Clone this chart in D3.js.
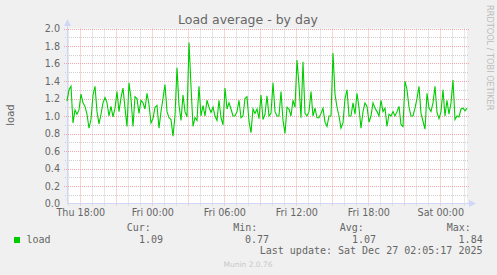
<!DOCTYPE html>
<html>
<head>
<meta charset="utf-8">
<script src="https://cdn.jsdelivr.net/npm/d3@7"></script>
<style>
  body { margin: 0; background: #f0f0f0; }
  svg { display: block; }
</style>
</head>
<body>
<div id="chart"></div>
<script>
// Data: one load reading every 10 minutes
const startTime = new Date(2025, 11, 25, 16, 53, 20);
const endTime = new Date(2025, 11, 27, 2, 13, 20);
const stepMinutes = 10;
const loadValues = [
  1.17, 1.30, 1.34, 0.92, 1.07, 1.02, 1.07, 1.25, 1.15, 1.11, 1.02, 0.86, 0.96, 1.24, 1.34, 1.05, 0.91,
  1.02, 1.15, 1.21, 1.15, 1.00, 1.11, 0.99, 1.09, 1.28, 1.05, 1.21, 1.32, 1.09, 0.88, 1.38, 1.20, 0.88,
  1.22, 1.20, 1.03, 1.18, 1.15, 1.08, 1.26, 1.13, 0.92, 0.97, 1.10, 1.12, 0.86, 1.05, 1.20, 1.36, 1.05,
  0.98, 0.96, 0.77, 1.00, 1.55, 1.12, 0.95, 1.24, 1.05, 0.99, 1.84, 1.34, 0.88, 0.98, 0.95, 1.34,
  1.00, 1.12, 1.00, 1.18, 1.10, 1.04, 1.10, 1.00, 0.95, 1.18, 0.98, 0.90, 1.32, 1.08, 1.15, 1.08, 1.00,
  1.00, 1.05, 1.18, 0.98, 1.00, 1.20, 1.22, 0.94, 0.81, 1.08, 1.03, 1.08, 0.97, 1.24, 0.96, 1.02, 1.23, 1.00,
  1.03, 1.38, 1.05, 1.00, 1.00, 1.28, 0.95, 0.80, 1.10, 1.08, 1.00, 1.18, 1.10, 1.64, 1.35, 0.98, 1.62,
  1.03, 1.00, 1.05, 1.28, 1.00, 1.09, 0.98, 0.98, 1.03, 1.09, 0.93, 0.88, 1.00, 1.00, 1.72, 1.25, 1.10,
  1.00, 0.86, 0.92, 1.20, 1.30, 1.00, 1.00, 1.15, 1.02, 1.26, 1.09, 0.86, 1.05, 1.15, 1.11, 0.93, 1.00,
  1.15, 1.09, 1.05, 1.00, 1.18, 1.05, 1.09, 0.88, 1.02, 1.00, 1.05, 1.00, 1.05, 1.11, 0.90, 0.88, 1.40,
  1.30, 1.10, 1.00, 1.00, 1.09, 1.20, 1.34, 1.03, 0.94, 0.85, 1.26, 1.09, 1.05, 1.15, 1.34, 1.04, 0.97,
  1.05, 1.30, 1.00, 1.18, 1.02, 1.15, 1.41, 0.96, 1.00, 0.99, 1.08, 1.09, 1.06, 1.09
];
const yTicks = [0.0, 0.2, 0.4, 0.6, 0.8, 1.0, 1.2, 1.4, 1.6, 1.8, 2.0];
const xTickTimes = [
  new Date(2025, 11, 25, 18), new Date(2025, 11, 26, 0), new Date(2025, 11, 26, 6),
  new Date(2025, 11, 26, 12), new Date(2025, 11, 26, 18), new Date(2025, 11, 27, 0)
];
const xTickLabels = ["Thu 18:00", "Fri 00:00", "Fri 06:00", "Fri 12:00", "Fri 18:00", "Sat 00:00"];
const statLabels = ["Cur:", "Min:", "Avg:", "Max:"];
const statValues = ["1.09", "0.77", "1.07", "1.84"];
const seriesName = "load";
const lastUpdate = "Last update: Sat Dec 27 02:05:17 2025";

// Layout
const width = 497;
const height = 275;
const plot = { left: 67, right: 467, top: 28.5, bottom: 203.5 };

const sans = "'DejaVu Sans', Verdana, sans-serif";
const mono = "'DejaVu Sans Mono', monospace";
const fontColor = "#666666";
const axisColor = "#cfd6f8";
const minorGrid = "#cfcfcf";
const majorGrid = "#f2a8a8";
const lineColor = "#00cc00";

const svg = d3.select("#chart")
  .append("svg")
  .attr("width", width)
  .attr("height", height)
  .style("background", "#f0f0f0");

// Scales
const x = d3.scaleTime().domain([startTime, endTime]).range([plot.left, plot.right]);
const y = d3.scaleLinear().domain([0, 2]).range([plot.bottom, plot.top]);

const data = loadValues.map((v, i) => ({
  t: new Date(startTime.getTime() + i * stepMinutes * 60000),
  v
}));

// Canvas
svg.append("rect")
  .attr("x", plot.left)
  .attr("y", plot.top)
  .attr("width", plot.right - plot.left)
  .attr("height", plot.bottom - plot.top)
  .attr("fill", "#fff");

const px = v => Math.round(v) + 0.5;

// Grid lines
const minorTimes = d3.timeHour.every(1).range(startTime, endTime);
const majorTimes = d3.timeHour.every(3).range(startTime, endTime);
const minorY = d3.range(1, 20, 2).map(d => d / 10);

const grid = svg.append("g").attr("stroke-dasharray", "1,1").attr("stroke-width", 1);

grid.selectAll(".vminor")
  .data(minorTimes.filter(t => t.getHours() % 3 !== 0))
  .join("line")
  .attr("x1", d => px(x(d))).attr("x2", d => px(x(d)))
  .attr("y1", plot.top).attr("y2", plot.bottom + 2)
  .attr("stroke", minorGrid);

grid.selectAll(".hminor")
  .data(minorY)
  .join("line")
  .attr("x1", plot.left - 2).attr("x2", plot.right + 2)
  .attr("y1", d => px(y(d))).attr("y2", d => px(y(d)))
  .attr("stroke", minorGrid);

grid.selectAll(".vmajor")
  .data(majorTimes)
  .join("line")
  .attr("x1", d => px(x(d))).attr("x2", d => px(x(d)))
  .attr("y1", plot.top).attr("y2", plot.bottom + 3)
  .attr("stroke", majorGrid);

grid.selectAll(".hmajor")
  .data(yTicks.slice(1))
  .join("line")
  .attr("x1", plot.left - 3).attr("x2", plot.right + 2)
  .attr("y1", d => px(y(d))).attr("y2", d => px(y(d)))
  .attr("stroke", majorGrid);

// Y axis labels
const yAxis = svg.append("g")
  .attr("transform", `translate(${plot.left - 4},0)`)
  .call(d3.axisLeft(y).tickValues(yTicks).tickFormat(d3.format(".1f")).tickSize(0).tickPadding(3));
yAxis.select(".domain").remove();
yAxis.selectAll("text")
  .style("font-family", sans)
  .style("font-size", "9.6px")
  .attr("fill", fontColor);

// X axis labels
const xAxis = svg.append("g")
  .attr("transform", `translate(0,${plot.bottom})`)
  .call(d3.axisBottom(x).tickValues(xTickTimes).tickFormat((d, i) => xTickLabels[i]).tickSize(0).tickPadding(6));
xAxis.select(".domain").remove();
xAxis.selectAll("text")
  .style("font-family", sans)
  .style("font-size", "9.6px")
  .attr("fill", fontColor);

// Axis lines with arrows
svg.append("line")
  .attr("x1", plot.left + 0.5).attr("x2", plot.left + 0.5)
  .attr("y1", plot.bottom).attr("y2", 24)
  .attr("stroke", axisColor);
svg.append("line")
  .attr("x1", plot.left).attr("x2", plot.right + 3)
  .attr("y1", plot.bottom).attr("y2", plot.bottom)
  .attr("stroke", axisColor);
svg.append("path")
  .attr("d", `M${plot.left - 3},${26} L${plot.left + 0.5},${19} L${plot.left + 4},${26} Z`)
  .attr("fill", axisColor);
svg.append("path")
  .attr("d", `M${plot.right + 2},${plot.bottom - 3.5} L${plot.right + 9},${plot.bottom} L${plot.right + 2},${plot.bottom + 3.5} Z`)
  .attr("fill", axisColor);

// Series line
svg.append("path")
  .datum(data)
  .attr("fill", "none")
  .attr("stroke", lineColor)
  .attr("stroke-width", 1.1)
  .attr("d", d3.line().x(d => x(d.t)).y(d => y(d.v)));

// Title
svg.append("text")
  .attr("x", 248)
  .attr("y", 24)
  .attr("text-anchor", "middle")
  .style("font-family", sans)
  .style("font-size", "12.5px")
  .attr("fill", fontColor)
  .text("Load average - by day");

// Y label
svg.append("text")
  .attr("transform", "translate(14,115) rotate(-90)")
  .attr("text-anchor", "middle")
  .style("font-family", sans)
  .style("font-size", "10px")
  .attr("fill", fontColor)
  .text("load");

// Watermark
svg.append("text")
  .attr("transform", "translate(487,5) rotate(90)")
  .style("font-family", sans)
  .style("font-size", "8.2px")
  .attr("fill", "#bdbdbd")
  .text("RRDTOOL / TOBI OETIKER");

// Legend
const legend = svg.append("g")
  .style("font-family", mono)
  .style("font-size", "10px")
  .attr("fill", fontColor);

legend.append("rect")
  .attr("x", 14).attr("y", 237)
  .attr("width", 6).attr("height", 6)
  .attr("fill", lineColor);
legend.append("text").attr("x", 26.5).attr("y", 243).text(seriesName);

const labelX = [126.7, 233.2, 339.7, 446.7];
const valueX = [163, 269, 376, 482.7];
legend.selectAll(".stat-label")
  .data(statLabels)
  .join("text")
  .attr("x", (d, i) => labelX[i])
  .attr("y", 230.5)
  .text(d => d);
legend.selectAll(".stat-value")
  .data(statValues)
  .join("text")
  .attr("x", (d, i) => valueX[i])
  .attr("y", 243)
  .attr("text-anchor", "end")
  .text(d => d);

legend.append("text")
  .attr("x", 482.5).attr("y", 253.5)
  .attr("text-anchor", "end")
  .text(lastUpdate);

// Footer
svg.append("text")
  .attr("x", 248)
  .attr("y", 266.5)
  .attr("text-anchor", "middle")
  .style("font-family", sans)
  .style("font-size", "7.5px")
  .attr("fill", "#c8c8c8")
  .text("Munin 2.0.76");
</script>
</body>
</html>
